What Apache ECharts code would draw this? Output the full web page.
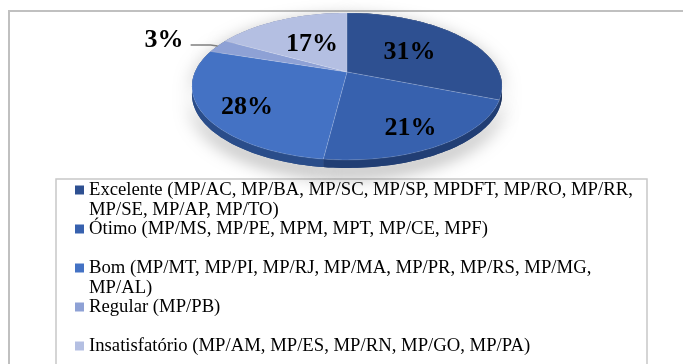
<!DOCTYPE html>
<html>
<head>
<meta charset="utf-8">
<script src="https://cdn.jsdelivr.net/npm/echarts@6/dist/echarts.min.js"></script>
<style>
  html, body { margin: 0; padding: 0; background: #fff; }
  #main { width: 683px; height: 364px; }
</style>
</head>
<body>
<div id="main"></div>
<script>
const categories = ['Excelente', 'Ótimo', 'Bom', 'Regular', 'Insatisfatório'];
const members = [
  ['MP/AC', 'MP/BA', 'MP/SC', 'MP/SP', 'MPDFT', 'MP/RO', 'MP/RR', 'MP/SE', 'MP/AP', 'MP/TO'],
  ['MP/MS', 'MP/PE', 'MPM', 'MPT', 'MP/CE', 'MPF'],
  ['MP/MT', 'MP/PI', 'MP/RJ', 'MP/MA', 'MP/PR', 'MP/RS', 'MP/MG', 'MP/AL'],
  ['MP/PB'],
  ['MP/AM', 'MP/ES', 'MP/RN', 'MP/GO', 'MP/PA']
];
const percents = [31, 21, 28, 3, 17];

const colors = ['#2E5091', '#3761AE', '#4472C4', '#8EA1D5', '#B4BFE2'];
const sideColors = ['#1C335F', '#213E74', '#2A4D8A', '#5E7199', '#7A86AA'];
const serif = '"Liberation Serif", "Times New Roman", serif';

// legend wrapping: how many members fit on the first line (0 = no wrap)
const wrapAfter = [7, 0, 7, 0, 0];

// tilted disc seen in perspective
const cx = 347, cy = 72, rx = 152, ry = 70.6, persp = 0.197, depth = 8;
function project(u, v) {
  const d = 1 - persp * v;
  return [cx + rx * u / d, cy + ry * v / d];
}

const total = percents.reduce(function (a, b) { return a + b; }, 0);
const starts = [];
let acc = 0;
percents.forEach(function (p) { starts.push(acc); acc += p; });

function rimPoints(a0, a1) {
  const pts = [];
  const n = Math.max(2, Math.ceil((a1 - a0) / (Math.PI / 120)));
  for (let i = 0; i <= n; i++) {
    const a = a0 + (a1 - a0) * i / n;
    pts.push(project(Math.sin(a), -Math.cos(a)));
  }
  return pts;
}

function renderItem(params, api) {
  const i = params.dataIndex;
  const v = api.value(0);
  const a0 = starts[i] / total * 2 * Math.PI;
  const a1 = a0 + v / total * 2 * Math.PI;
  const mid = (a0 + a1) / 2;
  const rim = rimPoints(a0, a1);
  const side = rim.concat(rim.slice().reverse().map(function (p) { return [p[0], p[1] + depth]; }));
  const top = [project(0, 0)].concat(rim);

  const children = [
    { type: 'polygon', z2: 0, shape: { points: side },
      style: { fill: sideColors[i], shadowBlur: 18, shadowColor: 'rgba(0,0,0,0.5)', shadowOffsetY: 7 } },
    { type: 'polygon', z2: 1, shape: { points: side }, style: { fill: sideColors[i] } },
    { type: 'polygon', z2: 10, shape: { points: top },
      style: { fill: colors[i], stroke: 'rgba(255,255,255,0.18)', lineWidth: 0.7 } }
  ];

  const labelFont = 'bold 26px ' + serif;
  if (v < 5) {
    // small slice: label outside with a leader line
    const p0 = project(Math.sin(mid), -Math.cos(mid));
    const p1 = [p0[0] - 7, p0[1] - 1];
    const p2 = [p1[0] - 20, p1[1]];
    children.push({ type: 'polyline', z2: 20, shape: { points: [p0, p1, p2] },
      style: { stroke: '#7f7f7f', lineWidth: 1.3, fill: null } });
    children.push({ type: 'text', z2: 20,
      style: { text: v + '%', x: p2[0] - 7, y: p2[1] - 5, align: 'right', verticalAlign: 'middle',
        font: labelFont, fill: '#000' } });
  } else {
    const z = -Math.cos(mid);
    // front labels sit lower on the face
    const f = z > 0 ? 0.72 : 0.6 + 0.13 * z;
    const p = project(f * Math.sin(mid), f * z);
    children.push({ type: 'text', z2: 20,
      style: { text: v + '%', x: p[0], y: p[1] + (z > 0 ? depth * 0.75 : 0),
        align: 'center', verticalAlign: 'middle', font: labelFont, fill: '#000' } });
  }
  return { type: 'group', children: children };
}

const chart = echarts.init(document.getElementById('main'));

// legend entries: first-line centres
const lineH = 20;
const lineCenters = [190, 229, 268, 307, 346];

function legendText(name) {
  const i = categories.indexOf(name);
  const m = members[i];
  if (!wrapAfter[i]) return name + ' (' + m.join(', ') + ')';
  // blank line on top keeps the marker beside the first line
  return ' \n' + name + ' (' + m.slice(0, wrapAfter[i]).join(', ') + ',\n' +
    m.slice(wrapAfter[i]).join(', ') + ')';
}

const legends = categories.map(function (name, i) {
  return {
    data: [name],
    left: 75,
    top: wrapAfter[i] ? lineCenters[i] - 1.5 * lineH : lineCenters[i] - lineH / 2,
    padding: 0,
    icon: 'rect',
    itemWidth: 9,
    itemHeight: 9,
    selectedMode: false,
    formatter: legendText,
    textStyle: {
      fontFamily: serif,
      fontSize: 18.7,
      color: '#000',
      lineHeight: lineH
    }
  };
});

const option = {
  backgroundColor: '#fff',
  animation: false,
  color: colors,
  legend: legends,
  graphic: [
    { type: 'rect', silent: true, z: -10,
      shape: { x: 9, y: 11, width: 720, height: 400 },
      style: { fill: 'none', stroke: '#c0c0c0', lineWidth: 2 } },
    { type: 'rect', silent: true, z: -10,
      shape: { x: 56, y: 179, width: 591, height: 230 },
      style: { fill: 'none', stroke: '#c8c8c8', lineWidth: 1.5 } }
  ],
  series: [
    {
      // only feeds the legend
      type: 'pie',
      radius: 0,
      silent: true,
      label: { show: false },
      labelLine: { show: false },
      data: categories.map(function (c, i) { return { name: c, value: percents[i] }; })
    },
    {
      type: 'custom',
      coordinateSystem: 'none',
      silent: true,
      renderItem: renderItem,
      data: percents.map(function (p) { return [p]; })
    }
  ]
};

chart.setOption(option);
</script>
</body>
</html>
